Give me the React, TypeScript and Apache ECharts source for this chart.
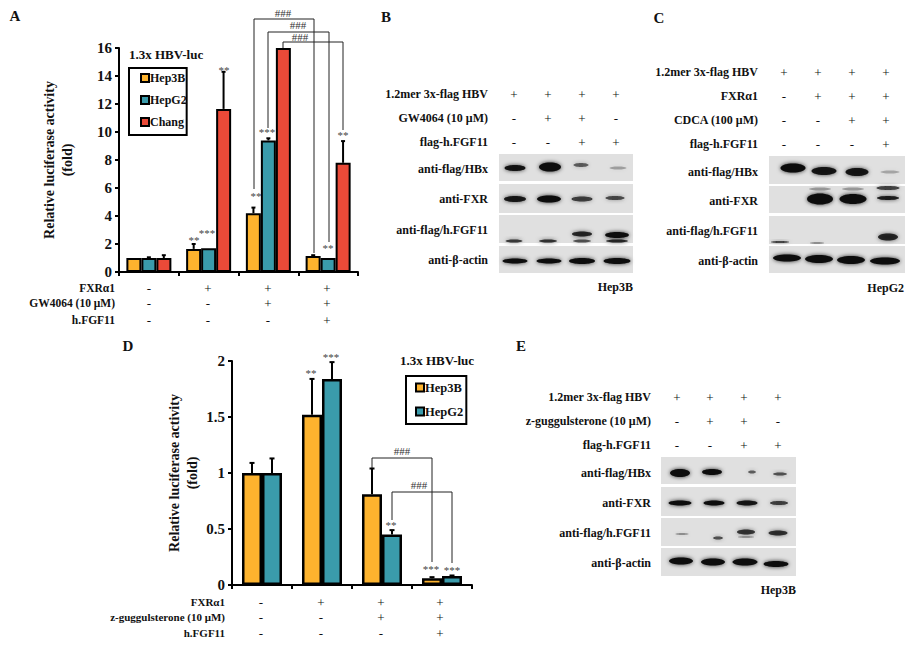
import React, { useEffect, useRef } from "react";
import * as echarts from "echarts";

const SERIF = '"Liberation Serif", "Times New Roman", serif';
const ORANGE = "#FDB32E";
const TEAL = "#3A9BAB";
const RED = "#EA4A38";

const categories = ["c1", "c2", "c3", "c4"];

const aHep3B = [1, 1.65, 4.2, 1.15];
const aHepG2 = [1, 1.7, 9.4, 1.0];
const aChang = [1, 11.65, 16, 7.8];
const aHep3BTop = [1, 2.0, 4.6, 1.2];
const aHepG2Top = [1.05, 1.72, 9.55, 1.03];
const aChangTop = [1.2, 14.3, 16, 9.35];

const dHep3B = [1, 1.52, 0.81, 0.06];
const dHepG2 = [1, 1.84, 0.45, 0.08];
const dHep3BTop = [1.09, 1.84, 1.04, 0.07];
const dHepG2Top = [1.13, 1.99, 0.49, 0.085];

const yTicksD: Record<string, string> = { "0": "0", "0.5": "0.5", "1": "1", "1.5": "1.5", "2": "2" };

// treatment tables: [row label, signs]
const tableA: [string, string[]][] = [
  ["FXRα1", ["-", "+", "+", "+"]],
  ["GW4064 (10 μM)", ["-", "-", "+", "+"]],
  ["h.FGF11", ["-", "-", "-", "+"]],
];
const tableD: [string, string[]][] = [
  ["FXRα1", ["-", "+", "+", "+"]],
  ["z-guggulsterone (10 μM)", ["-", "-", "+", "+"]],
  ["h.FGF11", ["-", "-", "-", "+"]],
];
const tableB: [string, string[]][] = [
  ["1.2mer 3x-flag HBV", ["+", "+", "+", "+"]],
  ["GW4064 (10 μM)", ["-", "+", "+", "-"]],
  ["flag-h.FGF11", ["-", "-", "+", "+"]],
];
const tableC: [string, string[]][] = [
  ["1.2mer 3x-flag HBV", ["+", "+", "+", "+"]],
  ["FXRα1", ["-", "+", "+", "+"]],
  ["CDCA (100 μM)", ["-", "-", "+", "+"]],
  ["flag-h.FGF11", ["-", "-", "-", "+"]],
];
const tableE: [string, string[]][] = [
  ["1.2mer 3x-flag HBV", ["+", "+", "+", "+"]],
  ["z-guggulsterone (10 μM)", ["-", "+", "+", "-"]],
  ["flag-h.FGF11", ["-", "-", "+", "+"]],
];
const blotLabels = ["anti-flag/HBx", "anti-FXR", "anti-flag/h.FGF11", "anti-β-actin"];

// band strengths
const strengthB = [0.95, 1, 0.55, 0.28, 0.92, 1, 0.72, 0.68, 0.75, 0.8, 0.85, 0.6, 1, 0.85, 1, 1, 1, 1];
const strengthC = [1, 0.95, 0.95, 0.25, 1, 1, 0.9, 0.7, 0.3, 0.3, 0.7, 0.35, 0.85, 1, 1, 1, 1];
const strengthE = [1, 1, 0.55, 0.65, 1, 1, 0.95, 0.72, 0.35, 0.65, 0.78, 0.3, 0.8, 1, 1, 1, 1];

// band geometry: cx, cy, width, height
const geomB = [
  [515, 168, 21, 6], [550, 167, 22, 9], [581, 165, 15, 4], [618, 168, 17, 3],
  [515, 199, 22, 6], [549, 199, 24, 7], [582, 199, 21, 5], [615, 198, 19, 4],
  [514, 241, 17, 3], [548, 241, 18, 3], [582, 234, 20, 5], [582, 241, 18, 3], [617, 235, 24, 6], [617, 241, 22, 3],
  [515, 261, 25, 5], [549, 261, 25, 5], [582, 261, 26, 6], [617, 261, 27, 6],
];
const geomC = [
  [793, 168, 25, 9], [824, 171, 25, 8], [857, 172, 23, 8], [890, 172, 19, 3],
  [820, 199, 26, 11], [853, 199, 27, 10], [888, 198, 22, 4], [888, 188, 23, 4], [820, 189, 22, 3], [853, 189, 22, 3],
  [780, 242, 18, 2], [817, 243, 14, 2], [888, 237, 20, 7],
  [787, 258, 28, 7], [819, 259, 28, 8], [851, 260, 28, 8], [885, 261, 30, 7],
];
const geomE = [
  [680, 473, 20, 8], [712, 472, 20, 6], [752, 472, 8, 3], [780, 474, 14, 3],
  [680, 503, 23, 5], [714, 503, 21, 5], [747, 503, 21, 5], [779, 503, 18, 4],
  [682, 534, 13, 2], [718, 538, 10, 3], [746, 532, 18, 5], [746, 537, 16, 2], [778, 533, 19, 5],
  [681, 561, 24, 7], [713, 562, 24, 7], [745, 562, 25, 7], [776, 564, 25, 6],
];

const text = (t: string, x: number, y: number, size: number, bold = true, align = "center", fill = "#111") => ({
  type: "text",
  silent: true,
  style: {
    text: t,
    x,
    y,
    fill,
    font: `${bold ? "bold " : ""}${size}px ${SERIF}`,
    align,
    verticalAlign: "middle",
  },
});

const bracket = (x1: number, y1: number, top: number, x2: number, y2: number) => ({
  type: "polyline",
  silent: true,
  shape: { points: [[x1, y1], [x1, top], [x2, top], [x2, y2]] },
  style: { stroke: "#222", lineWidth: 1, fill: "none" },
});

const signTable = (
  rows: [string, string[]][],
  labelX: number,
  lanes: number[],
  ys: number[],
  size: number
) => {
  const out: any[] = [];
  rows.forEach(([label, signs], r) => {
    out.push(text(label, labelX, ys[r], size, true, "right"));
    signs.forEach((s, i) => out.push(text(s, lanes[i], ys[r], 13, false)));
  });
  return out;
};

const blot = (
  panelX: number,
  panelW: number,
  panels: [number, number][],
  geom: number[][],
  strength: number[],
  labelX: number,
  labelYs: number[]
) => {
  const out: any[] = [];
  panels.forEach(([y0, y1]) =>
    out.push({
      type: "rect",
      silent: true,
      shape: { x: panelX, y: y0, width: panelW, height: y1 - y0 },
      style: { fill: "#e0e0e0" },
    })
  );
  geom.forEach(([cx, cy, w, h], i) => {
    const a = strength[i];
    out.push({
      type: "ellipse",
      silent: true,
      shape: { cx, cy, rx: w / 2, ry: h / 2 },
      style: {
        fill: `rgba(10,10,10,${a})`,
        shadowBlur: 4,
        shadowColor: `rgba(10,10,10,${a * 0.8})`,
      },
    });
  });
  blotLabels.forEach((l, i) => out.push(text(l, labelX, labelYs[i], 12, true, "right")));
  return out;
};

const errorSeries = (tops: number[], vals: number[], pos: number, barFrac: number, xi: number, capW: number) => ({
  type: "custom",
  xAxisIndex: xi,
  yAxisIndex: xi,
  z: 5,
  silent: true,
  clip: false,
  data: tops.map((t, i) => [i, vals[i], t]),
  encode: { x: 0, y: 2 },
  renderItem: (_p: any, api: any) => {
    const band = api.size([1, 0])[0];
    const x = api.coord([api.value(0), 0])[0] + pos * band * barFrac;
    const y0 = api.coord([api.value(0), api.value(1)])[1];
    const y1 = api.coord([api.value(0), api.value(2)])[1];
    if (Math.abs(y0 - y1) < 0.5) return { type: "group", children: [] };
    const st = { stroke: "#000", lineWidth: 2 };
    return {
      type: "group",
      children: [
        { type: "line", shape: { x1: x, y1: y0, x2: x, y2: y1 }, style: st },
        { type: "line", shape: { x1: x - capW, y1, x2: x + capW, y2: y1 }, style: st },
      ],
    };
  },
});

const barSeries = (name: string, data: number[], color: string, xi: number, width: number, bw: number) => ({
  name,
  type: "bar",
  xAxisIndex: xi,
  yAxisIndex: xi,
  data,
  barWidth: width,
  barGap: "0%",
  itemStyle: { color, borderColor: "#000", borderWidth: bw },
});

const axisCommon = {
  axisLine: { show: true, onZero: false, lineStyle: { color: "#000", width: 2 } },
  axisTick: { show: true, lineStyle: { color: "#000", width: 2 } },
  splitLine: { show: false },
};

export default function App() {
  const ref = useRef<HTMLDivElement>(null);
  useEffect(() => {
    const chart = echarts.init(ref.current!, undefined, { renderer: "svg" });
    const graphics: any[] = [
      text("A", 15, 16, 15),
      text("B", 386, 17, 15),
      text("C", 659, 18, 15),
      text("D", 128, 346, 15),
      text("E", 521, 346, 15),
      text("1.3x HBV-luc", 129, 54, 13, true, "left"),
      text("1.3x HBV-luc", 437, 360, 13),
      ...signTable(tableA, 115, [149, 208, 268, 327], [288, 303, 320], 11.5),
      ...signTable(tableD, 225, [261, 321, 381, 440], [602, 617, 633], 11),
      // chart A significance
      bracket(254, 189, 19, 314, 253),
      bracket(268, 128, 32, 329, 242),
      bracket(283, 48, 42, 343, 130),
      text("###", 283, 13, 11, false, "center", "#333"),
      text("###", 298, 25, 11, false, "center", "#333"),
      text("###", 300, 37, 11, false, "center", "#333"),
      text("**", 194, 240, 11, false, "center", "#444"),
      text("***", 207, 233, 11, false, "center", "#444"),
      text("**", 224, 70, 11, false, "center", "#444"),
      text("**", 256, 196, 11, false, "center", "#444"),
      text("***", 267, 132, 11, false, "center", "#444"),
      text("**", 328, 248, 11, false, "center", "#444"),
      text("**", 343, 135, 11, false, "center", "#444"),
      // chart D significance
      bracket(372, 468, 458, 432, 562),
      bracket(392, 520, 492, 452, 563),
      text("###", 402, 451, 11, false, "center", "#333"),
      text("###", 419, 485, 11, false, "center", "#333"),
      text("**", 311, 373, 11, false, "center", "#444"),
      text("***", 331, 357, 11, false, "center", "#444"),
      text("**", 391, 525, 11, false, "center", "#444"),
      text("***", 431, 569, 11, false, "center", "#444"),
      text("***", 452, 570, 11, false, "center", "#444"),
      // blots
      ...signTable(tableB, 488, [514, 548, 582, 616], [94, 118, 142], 12),
      ...blot(499, 134, [[154, 181], [184, 213], [215, 243], [246, 273]], geomB, strengthB, 488, [169, 199, 230, 260]),
      text("Hep3B", 633, 287, 12, true, "right"),
      ...signTable(tableC, 758, [784, 818, 852, 886], [72, 96, 120, 144], 12),
      ...blot(769, 136, [[156, 184], [186, 213], [216, 244], [246, 273]], geomC, strengthC, 758, [172, 201, 231, 261]),
      text("HepG2", 904, 288, 12, true, "right"),
      ...signTable(tableE, 651, [677, 710, 744, 778], [397, 421, 445], 12),
      ...blot(661, 135, [[457, 484], [487, 516], [518, 546], [548, 576]], geomE, strengthE, 651, [473, 503, 533, 563]),
      text("Hep3B", 796, 590, 12, true, "right"),
    ];

    const nameStyle = { color: "#111", fontFamily: SERIF, fontWeight: "bold", fontSize: 14, lineHeight: 18 };
    const legendBase = {
      orient: "vertical",
      icon: "rect",
      itemWidth: 8,
      itemHeight: 8,
      borderColor: "#000",
      borderWidth: 2,
      backgroundColor: "#fff",
    };
    const legendText = (size: number) => ({
      color: "#111",
      fontFamily: SERIF,
      fontWeight: "bold",
      fontSize: size,
      padding: [0, 0, 0, -4],
    });

    chart.setOption({
      animation: false,
      grid: [
        { left: 119, top: 48, width: 239, height: 224 },
        { left: 232, top: 361, width: 240, height: 224 },
      ],
      legend: [
        {
          ...legendBase,
          left: 129,
          top: 68,
          itemGap: 10,
          padding: [4, 0, 7, 11],
          textStyle: legendText(12),
          data: ["Hep3B", "HepG2", "Chang"],
        },
        {
          ...legendBase,
          left: 406,
          top: 376,
          itemGap: 11,
          padding: [5, 0, 6, 9],
          textStyle: legendText(12.5),
          data: ["Hep3B ", "HepG2 "],
        },
      ],
      xAxis: [0, 1].map((i) => ({
        type: "category",
        gridIndex: i,
        data: categories,
        ...axisCommon,
        axisTick: { ...axisCommon.axisTick, length: 4, alignWithLabel: false },
        axisLabel: { show: false },
      })),
      yAxis: [
        {
          type: "value",
          gridIndex: 0,
          min: 0,
          max: 16,
          interval: 2,
          ...axisCommon,
          axisTick: { ...axisCommon.axisTick, length: 4 },
          axisLabel: { color: "#111", fontFamily: SERIF, fontWeight: "bold", fontSize: 15, margin: 7 },
          name: "Relative luciferase activity\n(fold)",
          nameLocation: "middle",
          nameRotate: 90,
          nameGap: 43,
          nameTextStyle: nameStyle,
        },
        {
          type: "value",
          gridIndex: 1,
          min: 0,
          max: 2,
          interval: 0.5,
          ...axisCommon,
          axisTick: { ...axisCommon.axisTick, length: 4 },
          axisLabel: {
            color: "#111",
            fontFamily: SERIF,
            fontWeight: "bold",
            fontSize: 15,
            margin: 7,
            formatter: (v: number) => yTicksD[String(v)] ?? String(v),
          },
          name: "Relative luciferase activity\n(fold)",
          nameLocation: "middle",
          nameRotate: 90,
          nameGap: 30.5,
          nameTextStyle: nameStyle,
        },
      ],
      series: [
        barSeries("Hep3B", aHep3B, ORANGE, 0, 15, 2),
        barSeries("HepG2", aHepG2, TEAL, 0, 15, 2),
        barSeries("Chang", aChang, RED, 0, 15, 2),
        errorSeries(aHep3BTop, aHep3B, -1, 0.25, 0, 2),
        errorSeries(aHepG2Top, aHepG2, 0, 0.25, 0, 2),
        errorSeries(aChangTop, aChang, 1, 0.25, 0, 2),
        barSeries("Hep3B ", dHep3B, ORANGE, 1, 20, 2.5),
        barSeries("HepG2 ", dHepG2, TEAL, 1, 20, 2.5),
        errorSeries(dHep3BTop, dHep3B, -0.5, 1 / 3, 1, 2.5),
        errorSeries(dHepG2Top, dHepG2, 0.5, 1 / 3, 1, 2.5),
      ],
      graphic: { elements: graphics },
    });
    return () => chart.dispose();
  }, []);
  return (
    <div
      ref={ref}
      style={{ position: "absolute", left: 0, top: 0, width: 905, height: 648, background: "#fff" }}
    />
  );
}
